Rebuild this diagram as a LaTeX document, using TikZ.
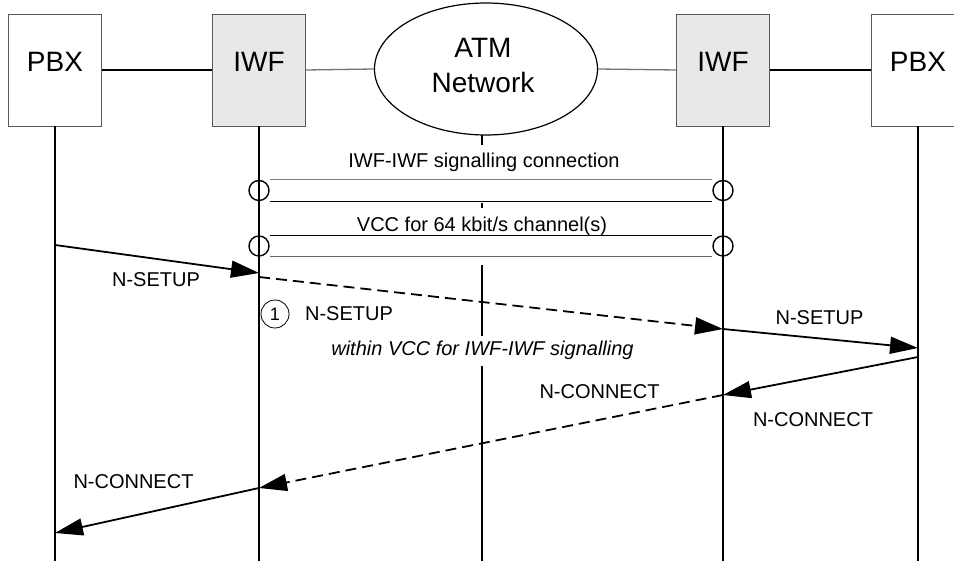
\documentclass[tikz,border=0pt]{standalone}
\usepackage{fontspec}
\setmainfont{Liberation Sans}
\usetikzlibrary{arrows.meta,shapes.geometric,calc}
\begin{document}
\begin{tikzpicture}[x=1pt,y=-1pt,
  ent/.style={draw=black!65, line width=0.9pt, minimum width=93pt, minimum height=112pt, inner sep=0pt},
  iwfbox/.style={ent, fill=black!9},
  big/.style={font=\fontsize{28}{30}\selectfont, anchor=base, inner sep=0pt},
  lbl/.style={font=\fontsize{20}{22}\selectfont, anchor=base, inner sep=0pt},
  life/.style={line width=1.3pt},
  ring/.style={draw, circle, line width=1.4pt, minimum size=20pt, inner sep=0pt},
  msg/.style={line width=1.8pt, -{Triangle[length=28pt,width=17pt]}},
  dmsg/.style={msg, dash pattern=on 11pt off 6pt},
]
\useasboundingbox (0,0) rectangle (954,561);

% entities
\node[ent] (pbxA) at (55,70) {};
\node[iwfbox] (iwfA) at (259,70) {};
\node[iwfbox] (iwfB) at (723,70) {};
\node[ent] (pbxB) at (918,70) {};
\node[draw, ellipse, line width=1.2pt, minimum width=223pt, minimum height=132pt, inner sep=0pt] (atm) at (486,69) {};

\node[big] (tpbxA) at (55,72) {PBX};
\node[big] (tiwfA) at (259,72) {IWF};
\node[big] (tiwfB) at (723,72) {IWF};
\node[big] (tpbxB) at (918,72) {PBX};
\node[big] (tatm) at (483,58) {ATM};
\node[big] (tnet) at (483,93) {Network};

% links
\draw[line width=1.7pt] (pbxA.east) -- (iwfA.west);
\draw[black!55, line width=1.3pt] (iwfA.east) -- (atm.west);
\draw[black!55, line width=1.3pt] (atm.east) -- (iwfB.west);
\draw[line width=1.7pt] (iwfB.east) -- (pbxB.west);

% lifelines
\coordinate (eA) at (55,561);
\coordinate (eB) at (259,561);
\coordinate (eC) at (482,561);
\coordinate (eD) at (723,561);
\coordinate (eE) at (918,561);
\draw[life] (pbxA.south) -- (eA);
\draw[life] (iwfA.south) -- (eB);
\draw[life] (iwfB.south) -- (eD);
\draw[life] (pbxB.south) -- (eE);
\coordinate (m0) at (482,135); \coordinate (m1) at (482,145);
\coordinate (m2) at (482,203); \coordinate (m3) at (482,208);
\coordinate (m4) at (482,265);
\draw[life] (m0) -- (m1);
\draw[life] (m2) -- (m3);
\draw[life] (m4) -- (eC);

% VCC tubes
\node[lbl] (tsig) at (484,168) {IWF-IWF signalling connection};
\node[ring] (c1l) at (259,190.5) {};
\node[ring] (c1r) at (723,190.5) {};
\draw[black!50, line width=1.3pt] (c1l.east |- c1l.north) -- (c1r.west |- c1r.north);
\draw[line width=1.2pt] (c1l.east |- c1l.south) -- (c1r.west |- c1r.south);

\node[lbl] (tvcc) at (482,232) {VCC for 64 kbit/s channel(s)};
\node[ring] (c2l) at (259,246) {};
\node[ring] (c2r) at (723,246) {};
\draw[line width=1.5pt] (c2l.east |- c2l.north) -- (c2r.west |- c2r.north);
\draw[black!60, line width=1.2pt] (c2l.east |- c2l.south) -- (c2r.west |- c2r.south);

% message points
\coordinate (p1) at (55,245);
\coordinate (p2) at (259,273);
\coordinate (p3) at (259,277);
\coordinate (p4) at (723,329);
\coordinate (p5) at (918,348);
\coordinate (p6) at (918,357);
\coordinate (p7) at (723,395);
\coordinate (p8) at (259,488);
\coordinate (p9) at (55,533);

\draw[msg] (p1) -- (p2);
\draw[dmsg] (p3) -- (p4);
\draw[msg] (p4) -- (p5);
\draw[msg] (p6) -- (p7);
\draw[dmsg] (p7) -- (p8);
\draw[msg] (p8) -- (p9);

% labels
\node[lbl] (l1) at (156,287) {N-SETUP};
\node[draw, circle, minimum size=28pt, inner sep=0pt, line width=0.8pt, font=\fontsize{18}{18}\selectfont] (one) at (275,314) {1};
\node[lbl] (l2) at (349,321) {N-SETUP};
\node[lbl, fill=white, inner xsep=2pt, inner ysep=6pt] (l3) at (482.5,356) {\itshape within VCC for IWF-IWF signalling};
\node[lbl] (l4) at (819.5,325) {N-SETUP};
\node[lbl] (l5) at (599.5,399) {N-CONNECT};
\node[lbl] (l6) at (813,427) {N-CONNECT};
\node[lbl] (l7) at (133.5,488) {N-CONNECT};
\end{tikzpicture}
\end{document}
